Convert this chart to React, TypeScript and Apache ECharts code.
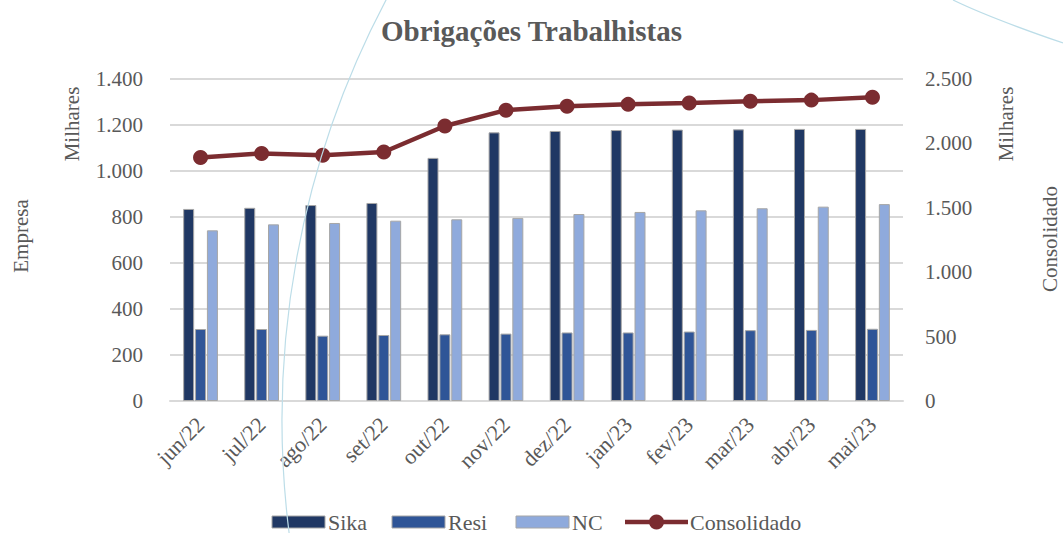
import React, { useEffect, useRef } from "react";
import * as echarts from "echarts";

const categories = ["jun/22", "jul/22", "ago/22", "set/22", "out/22", "nov/22", "dez/22", "jan/23", "fev/23", "mar/23", "abr/23", "mai/23"];
const sika = [835, 840, 852, 861, 1057, 1168, 1174, 1178, 1180, 1181, 1183, 1183];
const resi = [313, 313, 284, 287, 290, 293, 298, 298, 302, 308, 309, 314];
const nc = [742, 768, 774, 784, 790, 796, 813, 822, 829, 838, 845, 856];
const consolidado = [1890, 1922, 1908, 1933, 2135, 2258, 2288, 2303, 2314, 2328, 2336, 2358];
const leftTicks = { min: 0, max: 1400, interval: 200 };
const rightTicks = { min: 0, max: 2500, interval: 500 };
const seriesNames = ["Sika", "Resi", "NC", "Consolidado"];
const colors = ["#203864", "#2f5597", "#8faadc", "#7b2c30"];

const FONT = "Liberation Serif";
const GRAY = "#595959";
const fmt = (v: number) => String(v).replace(/\B(?=(\d{3})+(?!\d))/g, ".");

export default function App() {
  const ref = useRef<HTMLDivElement>(null);
  useEffect(() => {
    if (!ref.current) return;
    const chart = echarts.init(ref.current, undefined, { renderer: "svg" });
    const border = { borderColor: "#a6a6a6", borderWidth: 1 };
    const barBase = { type: "bar" as const, barWidth: 11, barGap: "8%" };

    // custom legend (graphic) so that its text uses the serif face
    const legendY = 522;
    const legendItems: any[] = [];
    const rectXs = [272, 392, 516];
    for (let i = 0; i < 3; i++) {
      legendItems.push({
        type: "rect",
        shape: { x: rectXs[i], y: legendY - 6, width: 53, height: 12 },
        style: { fill: colors[i], stroke: "#a6a6a6", lineWidth: 1 },
      });
      legendItems.push({
        type: "text",
        x: rectXs[i] + 56,
        y: legendY,
        style: { text: seriesNames[i], fontFamily: FONT, fontSize: 22, fill: GRAY, verticalAlign: "middle" },
      });
    }
    legendItems.push({
      type: "line",
      shape: { x1: 625, y1: legendY, x2: 688, y2: legendY },
      style: { stroke: colors[3], lineWidth: 4.5 },
    });
    legendItems.push({
      type: "circle",
      shape: { cx: 656.5, cy: legendY, r: 7.5 },
      style: { fill: colors[3] },
    });
    legendItems.push({
      type: "text",
      x: 690,
      y: legendY,
      style: { text: seriesNames[3], fontFamily: FONT, fontSize: 22, fill: GRAY, verticalAlign: "middle" },
    });

    chart.setOption({
      animation: false,
      backgroundColor: "#ffffff",
      textStyle: { fontFamily: FONT },
      title: {
        text: "Obrigações Trabalhistas",
        left: "center",
        top: 11,
        textStyle: { fontFamily: FONT, fontSize: 29, fontWeight: "bold", color: GRAY },
      },
      grid: { left: 170, right: 160, top: 79, bottom: 132 },
      xAxis: {
        type: "category",
        data: categories,
        axisTick: { show: false },
        axisLine: { lineStyle: { color: "#d9d9d9", width: 2 } },
        axisLabel: {
          rotate: 45,
          interval: 0,
          margin: 20,
          fontFamily: FONT,
          fontSize: 22,
          color: GRAY,
        },
      },
      yAxis: [
        {
          type: "value",
          ...leftTicks,
          axisLine: { show: false },
          axisTick: { show: false },
          splitLine: { lineStyle: { color: "#d9d9d9", width: 2 } },
          axisLabel: { fontFamily: FONT, fontSize: 21, color: GRAY, margin: 27, formatter: fmt },
        },
        {
          type: "value",
          ...rightTicks,
          axisLine: { show: false },
          axisTick: { show: false },
          splitLine: { show: false },
          axisLabel: { fontFamily: FONT, fontSize: 21, color: GRAY, margin: 22, formatter: fmt },
        },
      ],
      series: [
        { ...barBase, name: seriesNames[0], data: sika, itemStyle: { ...border, color: colors[0] } },
        { ...barBase, name: seriesNames[1], data: resi, itemStyle: { ...border, color: colors[1] } },
        { ...barBase, name: seriesNames[2], data: nc, itemStyle: { ...border, color: colors[2] } },
        {
          name: seriesNames[3],
          type: "line",
          yAxisIndex: 1,
          data: consolidado,
          symbol: "circle",
          symbolSize: 15,
          lineStyle: { color: colors[3], width: 4.5 },
          itemStyle: { color: colors[3] },
          z: 5,
        },
      ],
      graphic: [
        {
          type: "arc",
          silent: true,
          z: 100,
          shape: { cx: 1182, cy: 420, r: 900, startAngle: 3.0157, endAngle: 3.63, clockwise: true },
          style: { stroke: "#bcdde8", lineWidth: 1.2, fill: null },
        },
        {
          type: "bezierCurve",
          silent: true,
          z: 100,
          shape: { x1: 953, y1: 0, cpx1: 990, cpy1: 18, x2: 1063, y2: 43 },
          style: { stroke: "#bcdde8", lineWidth: 1.2, fill: null },
        },
        { type: "group", children: legendItems },
        {
          type: "text",
          x: 72,
          y: 124,
          rotation: Math.PI / 2,
          style: { text: "Milhares", fontFamily: FONT, fontSize: 21, fill: GRAY, align: "center", verticalAlign: "middle" },
        },
        {
          type: "text",
          x: 21,
          y: 236,
          rotation: Math.PI / 2,
          style: { text: "Empresa", fontFamily: FONT, fontSize: 21, fill: GRAY, align: "center", verticalAlign: "middle" },
        },
        {
          type: "text",
          x: 1006,
          y: 124,
          rotation: Math.PI / 2,
          style: { text: "Milhares", fontFamily: FONT, fontSize: 21, fill: GRAY, align: "center", verticalAlign: "middle" },
        },
        {
          type: "text",
          x: 1050,
          y: 239,
          rotation: Math.PI / 2,
          style: { text: "Consolidado", fontFamily: FONT, fontSize: 21, fill: GRAY, align: "center", verticalAlign: "middle" },
        },
      ],
    });
    return () => chart.dispose();
  }, []);
  return <div ref={ref} style={{ position: "absolute", left: 0, top: 0, width: 1063, height: 533 }} />;
}
